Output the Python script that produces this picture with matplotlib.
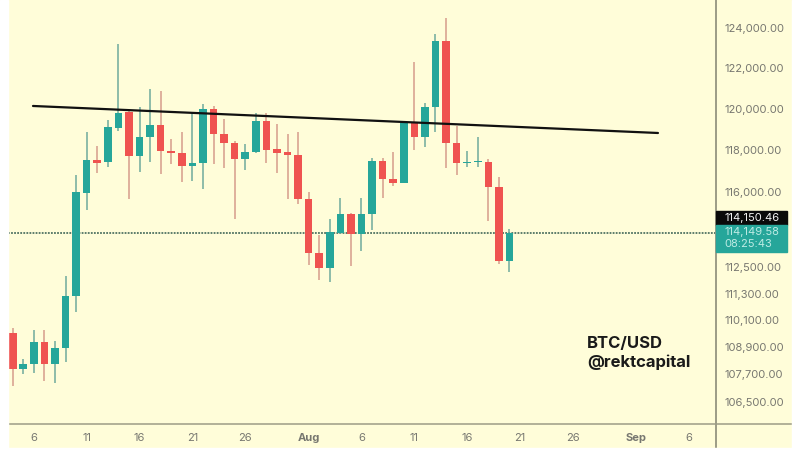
import matplotlib
matplotlib.use('Agg')
import numpy as np
import matplotlib.pyplot as plt
from matplotlib.lines import Line2D
from matplotlib.patches import Rectangle

# daily candles, first one is 4 Jul
highs = [109753, 108377, 109664, 109664, 109175, 112100, 116802, 118863, 118188, 119445,
         123197, 119933, 120079, 120960, 120862, 118524, 118863, 119787, 120226, 120128,
         119494, 118428, 118284, 119787, 119787, 119250, 118766, 118863, 115996, 113985,
         114730, 115714, 115010, 115714, 117612, 117612, 117900, 119300, 122297, 120274,
         123700, 124505, 119154, 117948, 118621, 117564, 116707, 114263]
lows = [107193, 107718, 107762, 107411, 107324, 108245, 110470, 115150, 116897, 117183,
        118912, 115667, 116945, 117420, 116850, 117326, 116469, 116516, 116137, 117326,
        117135, 114730, 117040, 117852, 117373, 116897, 115667, 115432, 112600, 111917,
        111826, 114030, 112557, 113245, 114216, 115714, 116279, 116400, 117996, 118140,
        118863, 117135, 116802, 117183, 117183, 114636, 112648, 112283]
body_tops = [109530, 108157, 109130, 109130, 108864, 111190, 115996, 117516, 117516, 119105,
             119787, 119835, 118621, 119202, 119202, 117948, 117852, 117373, 119982, 119982,
             118766, 118332, 117900, 119396, 119396, 118044, 117900, 117756, 115667, 113153,
             114123, 114963, 114963, 114963, 117468, 117468, 116612, 119300, 119300, 120079,
             123347, 123347, 118332, 117420, 117468, 117420, 116232, 114077]
body_bottoms = [107938, 107938, 108157, 108157, 108157, 108864, 111190, 115949, 117373, 117420,
                119057, 117708, 117708, 118621, 117948, 117852, 117230, 117230, 117373, 118766,
                118332, 117564, 117564, 117900, 117996, 117852, 117756, 115667, 113153, 112465,
                112465, 114077, 114030, 114030, 114963, 116612, 116421, 116421, 118621, 118621,
                120079, 118332, 117373, 117373, 117420, 116232, 112785, 112785]
is_up = [0, 1, 1, 0, 1, 1, 1, 1, 0, 1,
         1, 0, 1, 1, 0, 0, 0, 1, 1, 0,
         0, 0, 1, 1, 0, 0, 0, 0, 0, 0,
         1, 1, 0, 1, 1, 0, 0, 1, 0, 1,
         1, 0, 0, 1, 1, 0, 0, 1]

trend_days = [1.92, 61.05]
trend_prices = [120128, 118815]
# level where the dotted line sits in the picture
last_price_level = 114077

y_ticks = [124000, 122000, 120000, 118000, 116000, 112500, 111300, 110100, 108900, 107700, 106500]
x_ticks = [2, 7, 12, 17, 22, 28, 33, 38, 43, 48, 53, 59, 64]
x_labels = ['6', '11', '16', '21', '26', 'Aug', '6', '11', '16', '21', '26', 'Sep', '6']

BG = '#FFFDD9'
TEAL = '#26A69A'
RED = '#EF5350'
AXIS = '#9C9C86'
W, H = 800, 450

plt.rcParams['font.family'] = ['Inter', 'DejaVu Sans']

fig = plt.figure(figsize=(8, 4.5), dpi=100, facecolor=BG)
ax = fig.add_axes([8 / W, 1 - 424 / H, 708 / W, 424 / H], facecolor=BG)

days = np.arange(len(highs))
up = np.array(is_up, dtype=bool)
tops = np.array(body_tops)
bottoms = np.array(body_bottoms)

ax.set_yscale('log')

ax.axhline(last_price_level, color='#4F7262', linewidth=1.3, linestyle=(0, (1, 0.7)), zorder=1)

ax.vlines(days[up], np.array(lows)[up], np.array(highs)[up], color='#6FAA9C', linewidth=1.1, zorder=2)
ax.vlines(days[~up], np.array(lows)[~up], np.array(highs)[~up], color='#D69C8C', linewidth=1.1, zorder=2)
ax.bar(days[up], tops[up] - bottoms[up], bottom=bottoms[up], width=0.72, color=TEAL, zorder=3)
ax.bar(days[~up], tops[~up] - bottoms[~up], bottom=bottoms[~up], width=0.72, color=RED, zorder=3)

ax.plot(trend_days, trend_prices, color='#111111', linewidth=1.6, zorder=4, solid_capstyle='round')

ax.set_xlim(-0.445, 66.54)
ax.set_ylim(105550, 125420)

ax.yaxis.tick_right()
ax.set_yticks(y_ticks)
ax.set_yticklabels([f'{t:,.2f}' for t in y_ticks])
ax.minorticks_off()
ax.tick_params(axis='y', length=0, pad=6, labelsize=8, labelcolor='#777770')
ax.set_xticks(x_ticks)
ax.set_xticklabels(x_labels)
ax.tick_params(axis='x', length=0, pad=6.5, labelsize=8, labelcolor='#777770')
for label in ax.get_xticklabels():
    if label.get_text() in ('Aug', 'Sep'):
        label.set_fontweight('bold')

for side in ax.spines:
    ax.spines[side].set_visible(False)

# axis lines run past the plot area
fig.add_artist(Line2D([716 / W, 716 / W], [1 - 447 / H, 1], color=AXIS, linewidth=1.4))
fig.add_artist(Line2D([8 / W, 792 / W], [1 - 424 / H, 1 - 424 / H], color=AXIS, linewidth=1.1))

# price labels on the axis
fig.add_artist(Rectangle((716 / W, 1 - 225 / H), 71 / W, 14 / H, color='#0A0A0A', zorder=5))
fig.add_artist(Rectangle((716 / W, 1 - 252 / H), 71 / W, 27 / H, color=TEAL, zorder=5))
fig.text(724.5 / W, 1 - 218 / H, '114,150.46', color='#F4F4F4', fontsize=8, va='center', zorder=6)
fig.text(724.5 / W, 1 - 232 / H, '114,149.58', color='#BDEBE4', fontsize=8, va='center', zorder=6)
fig.text(724.5 / W, 1 - 244 / H, '08:25:43', color='#BDEBE4', fontsize=8, va='center', zorder=6)

fig.text(587 / W, 1 - 344 / H, 'BTC/USD', color='#1A1A1A', fontsize=12, fontweight='bold', va='center')
fig.text(587 / W, 1 - 362 / H, '@rektcapital', color='#1A1A1A', fontsize=12, fontweight='bold', va='center')

# white edges of the screenshot
fig.add_artist(Rectangle((0, 0), 8 / W, 1, color='white', zorder=7))
fig.add_artist(Rectangle((792 / W, 0), 8 / W, 1, color='white', zorder=7))
fig.add_artist(Rectangle((0, 0), 1, 2 / H, color='white', zorder=7))

fig.savefig('out.png', dpi=100, facecolor=fig.get_facecolor())
